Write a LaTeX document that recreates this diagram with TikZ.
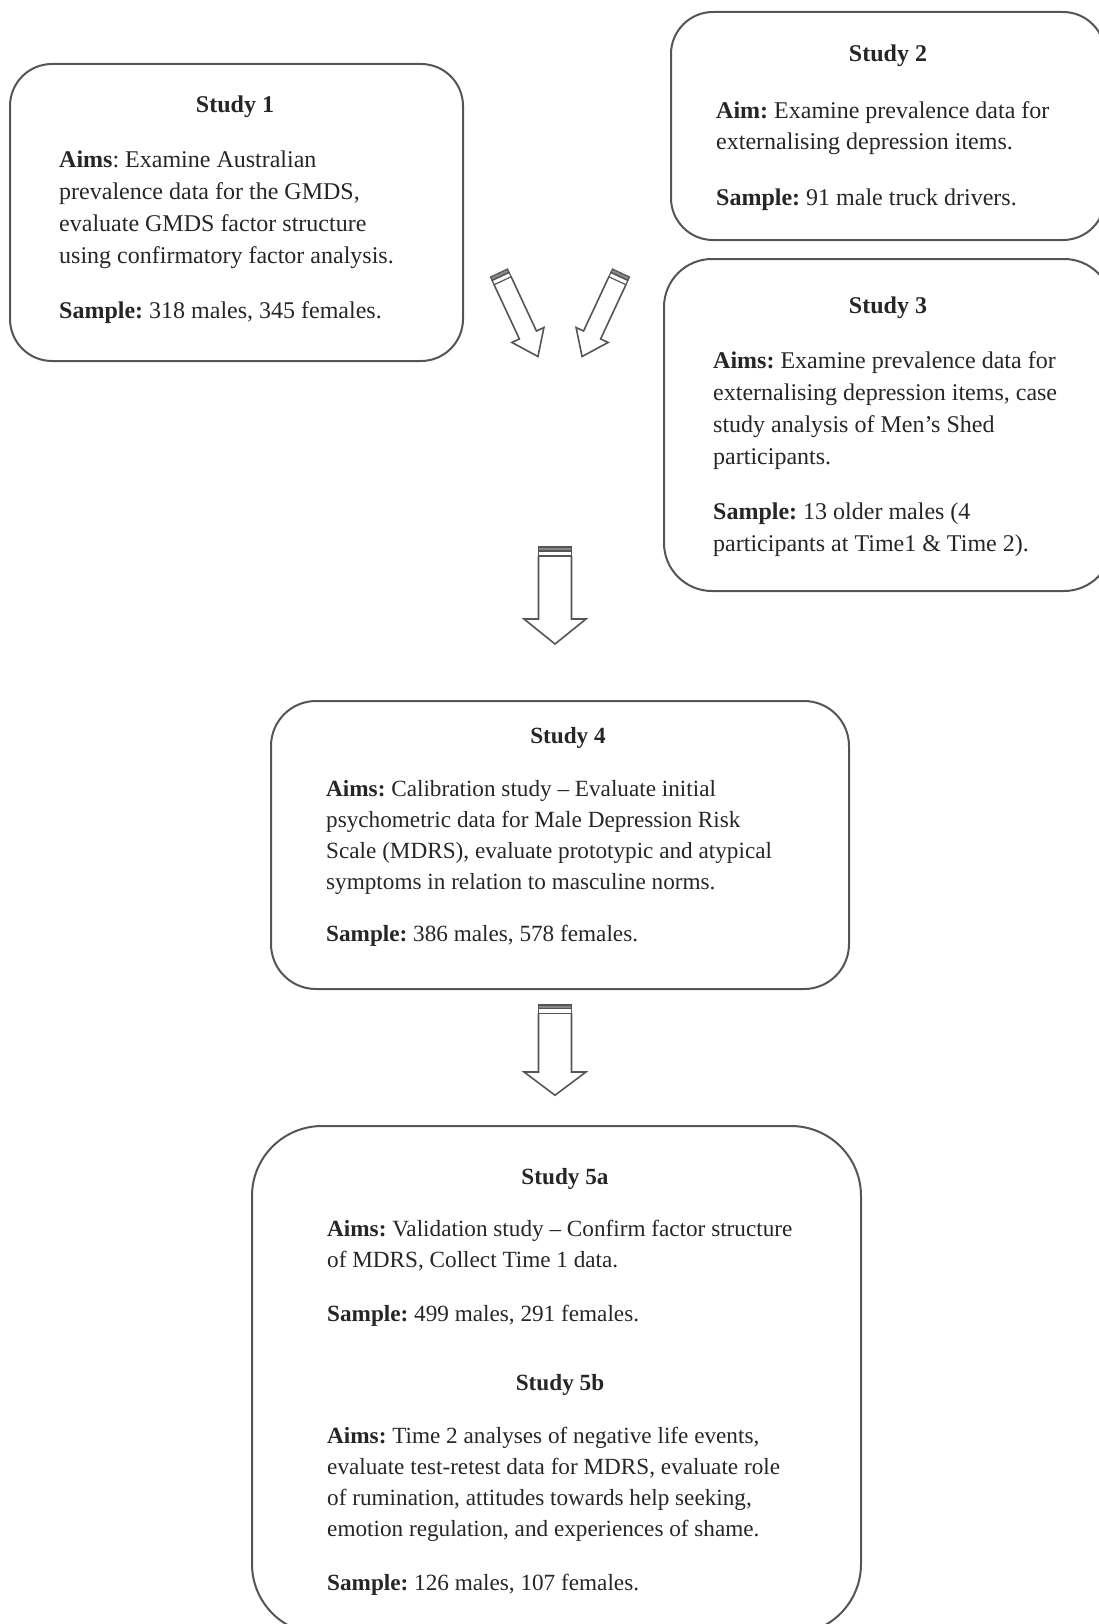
\documentclass[tikz,border=0pt]{standalone}
\usepackage{fontspec}
\setmainfont{Liberation Serif}
\usepackage{tikz}

\definecolor{boxline}{HTML}{555555}
\definecolor{inkgray}{HTML}{262626}

\begin{document}
\begin{tikzpicture}[x=1pt,y=-1pt,
    studybox/.style={draw=boxline,line width=2pt,rounded corners=#1,inner sep=0pt},
    studybox/.default=42pt,
    studyhead/.style={anchor=base,inner sep=0pt,text=inkgray,
      font=\frenchspacing\fontsize{24}{32}\selectfont\bfseries},
    smallhead/.style={studyhead,font=\frenchspacing\fontsize{23.2}{31}\selectfont\bfseries},
    studytext/.style={anchor=base west,align=left,inner sep=0pt,text=inkgray,
      font=\frenchspacing\fontsize{24}{32}\selectfont},
    smalltext/.style={studytext,font=\frenchspacing\fontsize{23.2}{31}\selectfont},
    stripedarrow/.pic={
      \filldraw[draw=boxline,fill=boxline!70,line width=1.2pt] (-16.5,0) rectangle (16.5,4);
      \draw[boxline,line width=1.2pt] (-16.5,4) rectangle (16.5,9);
      \draw[boxline,line width=1.6pt,line join=miter] (-16.5,9) -- (-16.5,72) -- (-31,72) -- (0,97)
        -- (31,72) -- (16.5,72) -- (16.5,9);
    }]
    \useasboundingbox (0,0) rectangle (1099,1624);
    \clip (0,0) rectangle (1099,1624);

    % boxes
    \node[studybox,minimum width=453pt,minimum height=297pt] (S1) at (236.5,212.5) {};
    \node[studybox,minimum width=434pt,minimum height=228pt] (S2) at (888,126) {};
    \node[studybox=48pt,minimum width=448pt,minimum height=332pt] (S3) at (888,425) {};
    \node[studybox=45pt,minimum width=578pt,minimum height=288pt] (S4) at (560,845) {};
    \node[studybox=70pt,minimum width=609pt,minimum height=508pt] (S5) at (556.5,1380) {};

    % study 1 (text nodes sit on their last baseline)
    \node[studyhead] (S1head) at (235,113) {Study 1};
    \node[studytext] (S1body) at (59,318) {%
      \textbf{Aims}: Examine Australian\\
      prevalence data for the GMDS,\\
      evaluate GMDS factor structure\\
      using confirmatory factor analysis.\\[23pt]
      \textbf{Sample:} 318 males, 345 females.};

    % study 2
    \node[studyhead] (S2head) at (888,62) {Study 2};
    \node[studytext] (S2body) at (716,205) {%
      \textbf{Aim:} Examine prevalence data for\\
      externalising depression items.\\[23pt]
      \textbf{Sample:} 91 male truck drivers.};

    % study 3
    \node[studyhead] (S3head) at (888,313) {Study 3};
    \node[studytext] (S3body) at (713,551) {%
      \textbf{Aims:} Examine prevalence data for\\
      externalising depression items, case\\
      study analysis of Men's Shed\\
      participants.\\[23pt]
      \textbf{Sample:} 13 older males (4\\
      participants at Time1 \& Time 2).};

    % study 4
    \node[smallhead] (S4head) at (568,743) {Study 4};
    \node[smalltext] (S4body) at (326,941) {%
      \textbf{Aims:} Calibration study -- Evaluate initial\\
      psychometric data for Male Depression Risk\\
      Scale (MDRS), evaluate prototypic and atypical\\
      symptoms in relation to masculine norms.\\[21pt]
      \textbf{Sample:} 386 males, 578 females.};

    % study 5a and 5b
    \node[smallhead] (S5ahead) at (565,1184) {Study 5a};
    \node[smalltext] (S5abody) at (327,1321) {%
      \textbf{Aims:} Validation study -- Confirm factor structure\\
      of MDRS, Collect Time 1 data.\\[23pt]
      \textbf{Sample:} 499 males, 291 females.};
    \node[smallhead] (S5bhead) at (560,1390) {Study 5b};
    \node[smalltext] (S5bbody) at (327,1590) {%
      \textbf{Aims:} Time 2 analyses of negative life events,\\
      evaluate test-retest data for MDRS, evaluate role\\
      of rumination, attitudes towards help seeking,\\
      emotion regulation, and experiences of shame.\\[23pt]
      \textbf{Sample:} 126 males, 107 females.};

    % arrows
    \coordinate (tailA) at (499,273);
    \coordinate (tailB) at (621,273);
    \coordinate (tailC) at (555,547);
    \coordinate (tailD) at (555,1005);
    \pic[rotate=25,xscale=0.57,yscale=0.95] at (tailA) {stripedarrow};
    \pic[rotate=-25,xscale=0.57,yscale=0.95] at (tailB) {stripedarrow};
    \pic at (tailC) {stripedarrow};
    \pic[yscale=0.93] at (tailD) {stripedarrow};
\end{tikzpicture}
\end{document}
